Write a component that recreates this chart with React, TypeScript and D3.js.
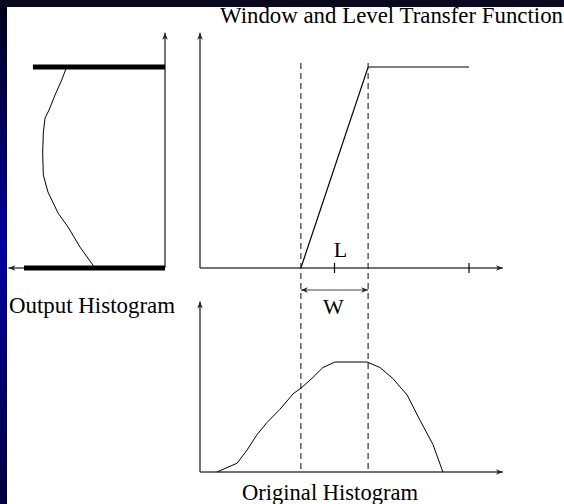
import React from "react";
import * as d3 from "d3";

// ---- data (intensity units, 0..1) ----
const level = 0.5;
const windowWidth = 0.25;
const xTicks = [0.5, 1.0];
const transferFn: [number, number][] = [
  [0.375, 0],
  [0.625, 1],
  [1.0, 1],
];
const originalHist: [number, number][] = [
  [0.063, 0], [0.138, 0.08], [0.175, 0.2], [0.212, 0.34], [0.249, 0.45],
  [0.297, 0.57], [0.346, 0.71], [0.379, 0.77], [0.42, 0.86], [0.457, 0.95],
  [0.502, 1.0], [0.621, 1.0], [0.669, 0.95], [0.717, 0.85], [0.77, 0.7],
  [0.818, 0.47], [0.866, 0.25], [0.903, 0],
];
// [count, output]
const outputHist: [number, number][] = [
  [0.804, 1.0], [0.845, 0.935], [0.899, 0.861], [0.948, 0.786], [0.981, 0.746],
  [0.995, 0.672], [1.0, 0.572], [0.995, 0.463], [0.957, 0.378], [0.875, 0.274],
  [0.793, 0.204], [0.695, 0.104], [0.572, 0],
];
const outputBars = [
  { output: 1, extent: 1.08 },
  { output: 0, extent: 1.153 },
];
const labels = {
  title: "Window and Level Transfer Function",
  output: "Output Histogram",
  original: "Original Histogram",
  level: "L",
  window: "W",
};

export default function App() {
  const W = 564, H = 504;
  const x = d3.scaleLinear().domain([0, 1]).range([200, 469]);
  const yOut = d3.scaleLinear().domain([0, 1]).range([268, 67]);
  const yHist = d3.scaleLinear().domain([0, 1]).range([472, 362]);
  const count = d3.scaleLinear().domain([0, 1]).range([165, 42.7]);

  const line = d3.line<[number, number]>().x((d) => x(d[0])).y((d) => yOut(d[1]));
  const histLine = d3
    .line<[number, number]>()
    .x((d) => x(d[0]))
    .y((d) => yHist(d[1]));
  const outLine = d3
    .line<[number, number]>()
    .x((d) => count(d[0]))
    .y((d) => yOut(d[1]));

  const wLo = level - windowWidth / 2;
  const wHi = level + windowWidth / 2;
  const axisColor = "#444";
  const font = "'Liberation Serif', 'Times New Roman', serif";

  return (
    <svg
      width={W}
      height={H}
      style={{ position: "absolute", left: 0, top: 0 }}
    >
      <defs>
        <linearGradient id="bg" x1="0" y1="0" x2="0" y2="1">
          <stop offset="0" stopColor="#000018" />
          <stop offset="0.5" stopColor="#0000a0" />
          <stop offset="1" stopColor="#000040" />
        </linearGradient>
        <marker id="arr" viewBox="0 0 10 10" refX="10" refY="5" markerWidth="9" markerHeight="7" markerUnits="userSpaceOnUse" orient="auto-start-reverse">
          <path d="M0,1 L10,5 L0,9 L3,5 Z" fill="#222" />
        </marker>
      </defs>
      <rect x={0} y={0} width={W} height={H} fill="url(#bg)" />
      <rect x={0} y={0} width={W} height={7} fill="#08081e" />
      <rect x={7} y={7} width={W - 7} height={H - 7} fill="#fff" />

      {/* Transfer function axes */}
      <line x1={x(0)} y1={yOut(0)} x2={x(0)} y2={yOut(1.17)} stroke={axisColor} strokeWidth={1.5} markerEnd="url(#arr)" />
      <line x1={x(0)} y1={yOut(0)} x2={x(1.126)} y2={yOut(0)} stroke={axisColor} strokeWidth={1.5} markerEnd="url(#arr)" />
      {xTicks.map((t) => (
        <line key={t} x1={x(t)} x2={x(t)} y1={yOut(0) - 5} y2={yOut(0) + 5} stroke="#000" strokeWidth={1.2} />
      ))}
      <path d={line(transferFn) || ""} fill="none" stroke="#000" strokeWidth={1.2} />

      {/* Window dashed lines */}
      {[wLo, wHi].map((v) => (
        <line key={v} x1={x(v)} x2={x(v)} y1={63} y2={yHist(0)} stroke="#333" strokeWidth={1.2} strokeDasharray="6 4" />
      ))}
      <line x1={x(wLo)} x2={x(wHi)} y1={290} y2={290} stroke={axisColor} strokeWidth={1.2} markerStart="url(#arr)" markerEnd="url(#arr)" />
      <text x={x(level) + 6} y={257} fontFamily={font} fontSize={22} textAnchor="middle">{labels.level}</text>
      <text x={x(level) - 1} y={314} fontFamily={font} fontSize={22} textAnchor="middle">{labels.window}</text>

      {/* Output histogram */}
      <line x1={count(0)} y1={yOut(0)} x2={count(0)} y2={yOut(1.17)} stroke={axisColor} strokeWidth={1.5} markerEnd="url(#arr)" />
      <line x1={count(0)} y1={yOut(0)} x2={count(1.28)} y2={yOut(0)} stroke={axisColor} strokeWidth={1.5} markerEnd="url(#arr)" />
      {outputBars.map((b) => (
        <line key={b.output} x1={count(0)} x2={count(b.extent)} y1={yOut(b.output)} y2={yOut(b.output)} stroke="#000" strokeWidth={5} />
      ))}
      <path d={outLine(outputHist) || ""} fill="none" stroke="#000" strokeWidth={1} />

      {/* Original histogram */}
      <line x1={x(0)} y1={yHist(0)} x2={x(0)} y2={yHist(1.55)} stroke={axisColor} strokeWidth={1.5} markerEnd="url(#arr)" />
      <line x1={x(0)} y1={yHist(0)} x2={x(1.126)} y2={yHist(0)} stroke={axisColor} strokeWidth={1.5} markerEnd="url(#arr)" />
      <path d={histLine(originalHist) || ""} fill="none" stroke="#000" strokeWidth={1} />

      {/* Labels */}
      <text x={220} y={23} fontFamily={font} fontSize={22.5} textLength={343} lengthAdjust="spacingAndGlyphs">{labels.title}</text>
      <text x={9} y={313} fontFamily={font} fontSize={22.5} textLength={166} lengthAdjust="spacingAndGlyphs">{labels.output}</text>
      <text x={242} y={500} fontFamily={font} fontSize={22.5} textLength={176} lengthAdjust="spacingAndGlyphs">{labels.original}</text>
    </svg>
  );
}
